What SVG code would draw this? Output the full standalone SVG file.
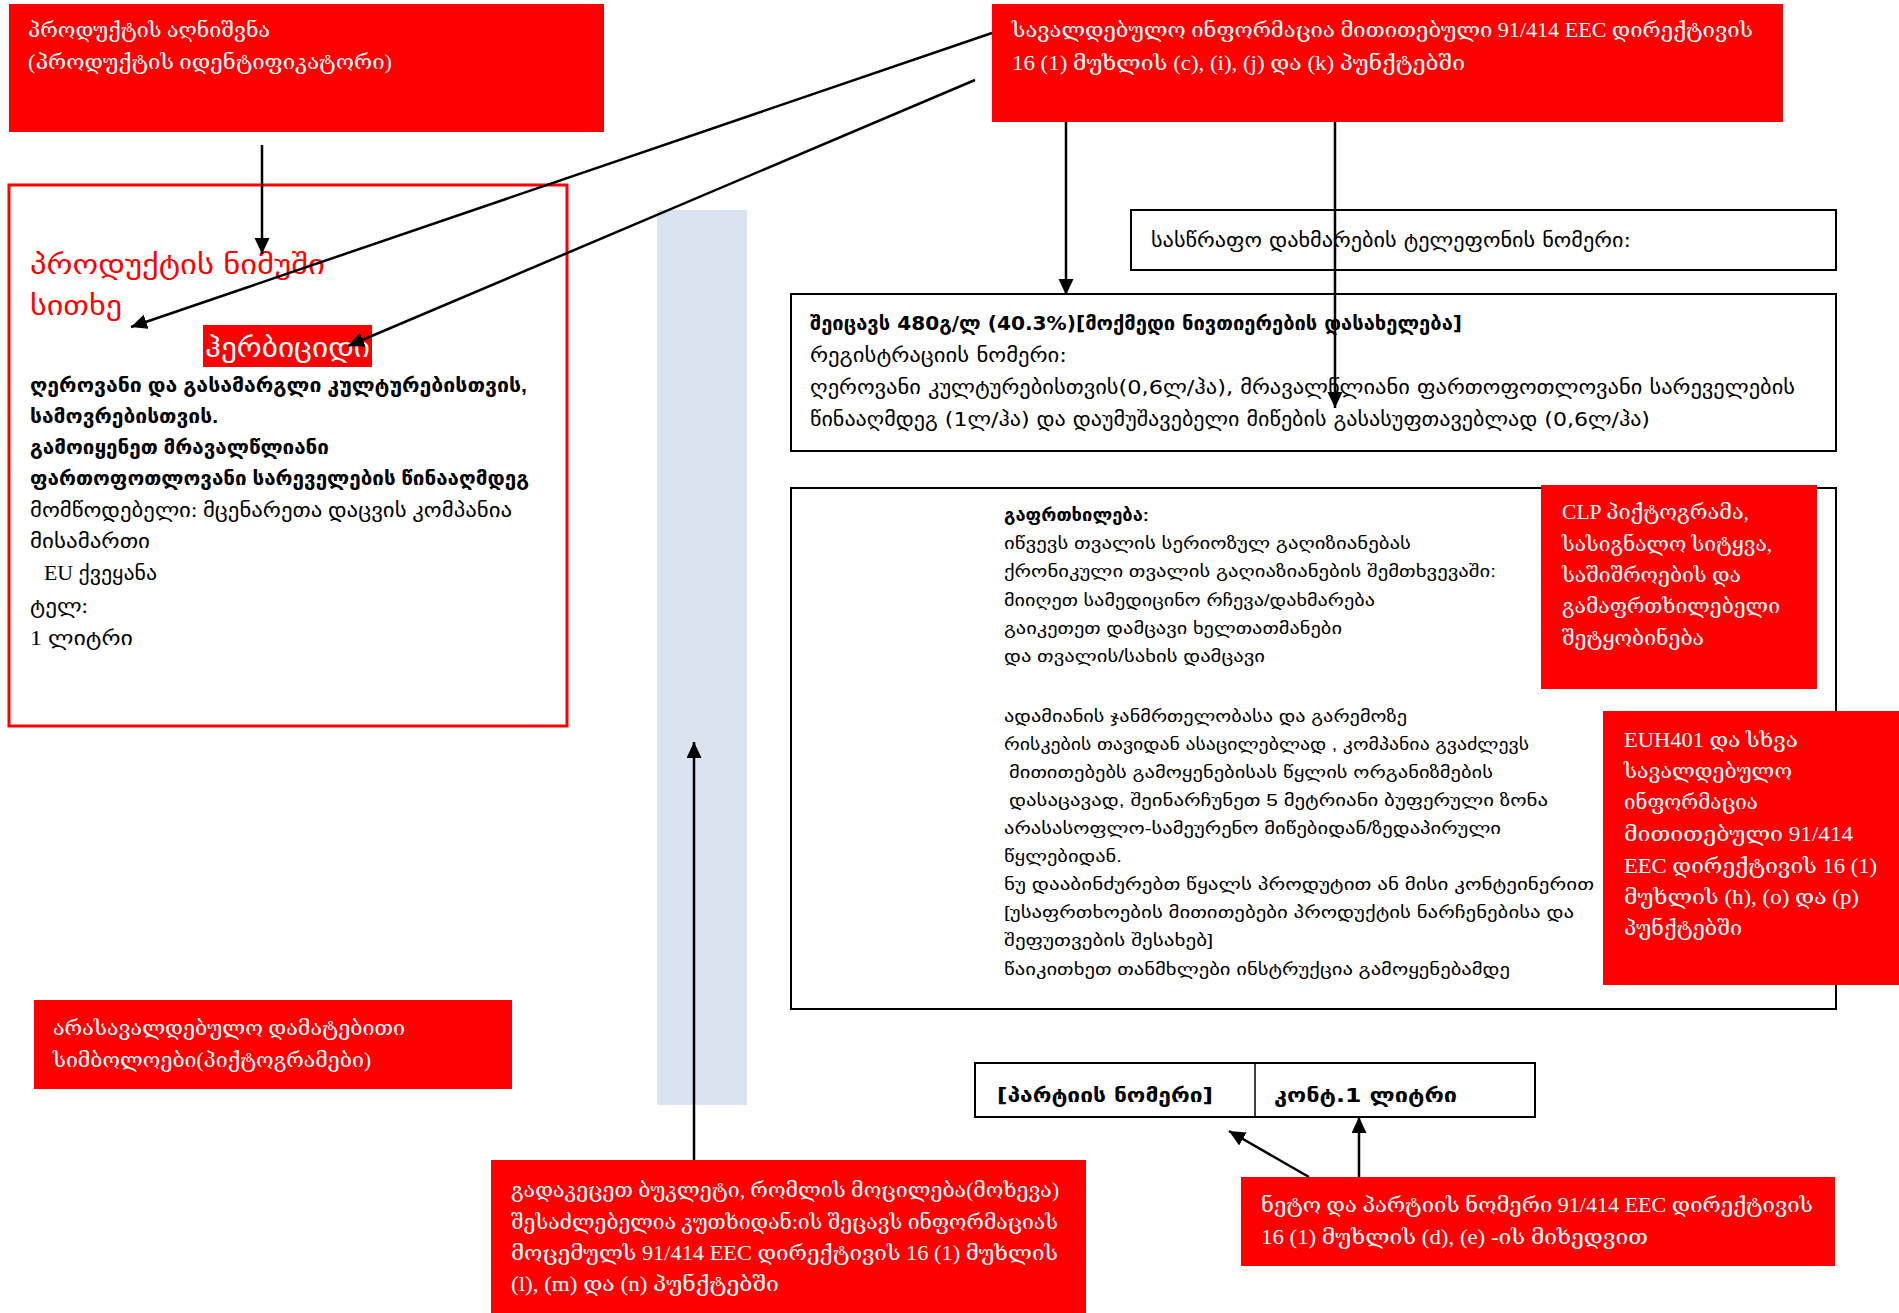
<svg xmlns="http://www.w3.org/2000/svg" width="1899" height="1313" viewBox="0 0 1899 1313">
<style>
.redbox{fill:#ff0000}
.wt{fill:#ffffff;font-family:"Liberation Serif","DejaVu Serif",serif;font-size:21px}
.lb{fill:#000;font-family:"Liberation Serif","DejaVu Sans",sans-serif;font-size:20px}
.lbb{fill:#000;font-family:"Liberation Sans","DejaVu Sans",sans-serif;font-size:20px;font-weight:bold}
.rt{fill:#ff0000;font-family:"Liberation Sans","DejaVu Sans",sans-serif;font-size:28px}
.box{fill:#ffffff;stroke:#000;stroke-width:2}
.nr{fill:#000;font-family:"Liberation Sans Narrow","DejaVu Sans Condensed","DejaVu Sans",sans-serif;font-stretch:condensed;font-size:20px}
.wn{fill:#000;font-family:"Liberation Sans","DejaVu Sans",sans-serif;font-size:17px}
.con{stroke:#000;stroke-width:2.5;fill:none}
</style>
<defs>
<marker id="ah" markerUnits="userSpaceOnUse" markerWidth="18" markerHeight="16" refX="16" refY="7.5" orient="auto">
<path d="M0,0 L16,7.5 L0,15 z" fill="#000"/>
</marker>
</defs>
<rect width="1899" height="1313" fill="#ffffff"/>

<g id="booklet-strip"><rect x="657" y="210" width="90" height="895" fill="#dae3f0"/></g>

<g id="product-id">
<rect class="redbox" x="9" y="4" width="595" height="128"/>
<text class="wt" x="28" y="37" textLength="242" lengthAdjust="spacingAndGlyphs">პროდუქტის აღნიშვნა</text>
<text class="wt" x="28" y="69" textLength="364" lengthAdjust="spacingAndGlyphs">(პროდუქტის იდენტიფიკატორი)</text>
</g>

<g id="mandatory-info">
<rect class="redbox" x="992" y="4" width="791" height="118"/>
<text class="wt" x="1012" y="37" textLength="741" lengthAdjust="spacingAndGlyphs">სავალდებულო ინფორმაცია მითითებული 91/414 EEC დირექტივის</text>
<text class="wt" x="1012" y="70" textLength="453" lengthAdjust="spacingAndGlyphs">16 (1) მუხლის (c), (i), (j) და (k) პუნქტებში</text>
</g>

<g id="label-sample">
<rect x="9" y="185" width="558" height="541" fill="none" stroke="#ff0000" stroke-width="3"/>
<text class="rt" x="30" y="274" textLength="295" lengthAdjust="spacingAndGlyphs">პროდუქტის ნიმუში</text>
<text class="rt" x="30" y="315" textLength="92" lengthAdjust="spacingAndGlyphs">სითხე</text>
<rect class="redbox" x="203" y="325" width="169" height="42"/>
<text class="rt" x="205" y="357" style="fill:#ffffff" textLength="165" lengthAdjust="spacingAndGlyphs">ჰერბიციდი</text>
<text class="lbb" x="30" y="392" textLength="497" lengthAdjust="spacingAndGlyphs">ღეროვანი და გასამარგლი კულტურებისთვის,</text>
<text class="lbb" x="30" y="423" textLength="188" lengthAdjust="spacingAndGlyphs">სამოვრებისთვის.</text>
<text class="lbb" x="30" y="454" textLength="299" lengthAdjust="spacingAndGlyphs">გამოიყენეთ მრავალწლიანი</text>
<text class="lbb" x="30" y="485" textLength="499" lengthAdjust="spacingAndGlyphs">ფართოფოთლოვანი სარეველების წინააღმდეგ</text>
<text class="lb" x="30" y="517" textLength="482" lengthAdjust="spacingAndGlyphs">მომწოდებელი: მცენარეთა დაცვის კომპანია</text>
<text class="lb" x="30" y="548" textLength="120" lengthAdjust="spacingAndGlyphs">მისამართი</text>
<text class="lb" x="44" y="580" textLength="113" lengthAdjust="spacingAndGlyphs">EU ქვეყანა</text>
<text class="lb" x="30" y="613" textLength="58" lengthAdjust="spacingAndGlyphs">ტელ:</text>
<text class="lb" x="30" y="645" textLength="103" lengthAdjust="spacingAndGlyphs">1 ლიტრი</text>
</g>

<g id="emergency-phone">
<rect class="box" x="1131" y="210" width="705" height="60"/>
<text class="nr" x="1151" y="247" textLength="480" lengthAdjust="spacingAndGlyphs">სასწრაფო დახმარების ტელეფონის ნომერი:</text>
</g>

<g id="composition">
<rect class="box" x="791" y="294" width="1045" height="157"/>
<text class="nr" x="810" y="330" font-weight="bold" textLength="652" lengthAdjust="spacingAndGlyphs">შეიცავს 480გ/ლ (40.3%)[მოქმედი ნივთიერების დასახელება]</text>
<text class="nr" x="810" y="362" textLength="257" lengthAdjust="spacingAndGlyphs">რეგისტრაციის ნომერი:</text>
<text class="nr" x="810" y="394" textLength="985" lengthAdjust="spacingAndGlyphs">ღეროვანი კულტურებისთვის(0,6ლ/ჰა), მრავალწლიანი ფართოფოთლოვანი სარეველების</text>
<text class="nr" x="810" y="426" textLength="840" lengthAdjust="spacingAndGlyphs">წინააღმდეგ (1ლ/ჰა) და დაუმუშავებელი მიწების გასასუფთავებლად (0,6ლ/ჰა)</text>
</g>

<g id="warning">
<rect class="box" x="791" y="488" width="1045" height="521"/>
<text class="wn" x="1004" y="521" font-weight="bold" textLength="145" lengthAdjust="spacingAndGlyphs">გაფრთხილება:</text>
<text class="wn" x="1004" y="549" textLength="407" lengthAdjust="spacingAndGlyphs">იწვევს თვალის სერიოზულ გაღიზიანებას</text>
<text class="wn" x="1004" y="577" textLength="492" lengthAdjust="spacingAndGlyphs">ქრონიკული თვალის გაღიაზიანების შემთხვევაში:</text>
<text class="wn" x="1004" y="606" textLength="371" lengthAdjust="spacingAndGlyphs">მიიღეთ სამედიცინო რჩევა/დახმარება</text>
<text class="wn" x="1004" y="634" textLength="338" lengthAdjust="spacingAndGlyphs">გაიკეთეთ დამცავი ხელთათმანები</text>
<text class="wn" x="1004" y="662" textLength="261" lengthAdjust="spacingAndGlyphs">და თვალის/სახის დამცავი</text>
<text class="wn" x="1004" y="722" textLength="403" lengthAdjust="spacingAndGlyphs">ადამიანის ჯანმრთელობასა და გარემოზე</text>
<text class="wn" x="1004" y="750" textLength="525" lengthAdjust="spacingAndGlyphs">რისკების თავიდან ასაცილებლად , კომპანია გვაძლევს</text>
<text class="wn" x="1009" y="778" textLength="484" lengthAdjust="spacingAndGlyphs">მითითებებს გამოყენებისას წყლის ორგანიზმების</text>
<text class="wn" x="1009" y="806" textLength="539" lengthAdjust="spacingAndGlyphs">დასაცავად, შეინარჩუნეთ 5 მეტრიანი ბუფერული ზონა</text>
<text class="wn" x="1004" y="834" textLength="497" lengthAdjust="spacingAndGlyphs">არასასოფლო-სამეურენო მიწებიდან/ზედაპირული</text>
<text class="wn" x="1004" y="862" textLength="118" lengthAdjust="spacingAndGlyphs">წყლებიდან.</text>
<text class="wn" x="1004" y="890" textLength="590" lengthAdjust="spacingAndGlyphs">ნუ დააბინძურებთ წყალს პროდუტით ან მისი კონტეინერით</text>
<text class="wn" x="1004" y="918" textLength="570" lengthAdjust="spacingAndGlyphs">[უსაფრთხოების მითითებები პროდუქტის ნარჩენებისა და</text>
<text class="wn" x="1004" y="946" textLength="209" lengthAdjust="spacingAndGlyphs">შეფუთვების შესახებ]</text>
<text class="wn" x="1004" y="975" textLength="506" lengthAdjust="spacingAndGlyphs">წაიკითხეთ თანმხლები ინსტრუქცია გამოყენებამდე</text>
</g>

<g id="clp">
<rect class="redbox" x="1541" y="485" width="276" height="204"/>
<text class="wt" x="1562" y="519" textLength="187" lengthAdjust="spacingAndGlyphs">CLP პიქტოგრამა,</text>
<text class="wt" x="1562" y="551" textLength="210" lengthAdjust="spacingAndGlyphs">სასიგნალო სიტყვა,</text>
<text class="wt" x="1562" y="582" textLength="179" lengthAdjust="spacingAndGlyphs">საშიშროების და</text>
<text class="wt" x="1562" y="613" textLength="218" lengthAdjust="spacingAndGlyphs">გამაფრთხილებელი</text>
<text class="wt" x="1562" y="645" textLength="142" lengthAdjust="spacingAndGlyphs">შეტყობინება</text>
</g>

<g id="euh401">
<rect class="redbox" x="1603" y="711" width="296" height="274"/>
<text class="wt" x="1624" y="747" textLength="174" lengthAdjust="spacingAndGlyphs">EUH401 და სხვა</text>
<text class="wt" x="1624" y="778" textLength="168" lengthAdjust="spacingAndGlyphs">სავალდებულო</text>
<text class="wt" x="1624" y="809" textLength="134" lengthAdjust="spacingAndGlyphs">ინფორმაცია</text>
<text class="wt" x="1624" y="841" textLength="229" lengthAdjust="spacingAndGlyphs">მითითებული 91/414</text>
<text class="wt" x="1624" y="873" textLength="253" lengthAdjust="spacingAndGlyphs">EEC დირექტივის 16 (1)</text>
<text class="wt" x="1624" y="904" textLength="235" lengthAdjust="spacingAndGlyphs">მუხლის (h), (o) და (p)</text>
<text class="wt" x="1624" y="935" textLength="118" lengthAdjust="spacingAndGlyphs">პუნქტებში</text>
</g>

<g id="optional-symbols">
<rect class="redbox" x="34" y="1000" width="478" height="89"/>
<text class="wt" x="53" y="1035" textLength="352" lengthAdjust="spacingAndGlyphs">არასავალდებულო დამატებითი</text>
<text class="wt" x="53" y="1067" textLength="318" lengthAdjust="spacingAndGlyphs">სიმბოლოები(პიქტოგრამები)</text>
</g>

<g id="booklet">
<rect class="redbox" x="491" y="1160" width="595" height="153"/>
<text class="wt" x="511" y="1197" textLength="548" lengthAdjust="spacingAndGlyphs">გადაკეცეთ ბუკლეტი, რომლის მოცილება(მოხევა)</text>
<text class="wt" x="511" y="1229" textLength="547" lengthAdjust="spacingAndGlyphs">შესაძლებელია კუთხიდან:ის შეცავს ინფორმაციას</text>
<text class="wt" x="511" y="1260" textLength="547" lengthAdjust="spacingAndGlyphs">მოცემულს 91/414 EEC დირექტივის 16 (1) მუხლის</text>
<text class="wt" x="511" y="1291" textLength="268" lengthAdjust="spacingAndGlyphs">(l), (m) და (n) პუნქტებში</text>
</g>

<g id="batch">
<rect class="box" x="975" y="1063" width="560" height="54"/>
<line x1="1255" y1="1063" x2="1255" y2="1117" stroke="#000" stroke-width="1.5"/>
<text class="nr" x="997" y="1102" font-size="22" font-weight="bold" textLength="216" lengthAdjust="spacingAndGlyphs">[პარტიის ნომერი]</text>
<text class="nr" x="1274" y="1102" font-size="22" font-weight="bold" textLength="183" lengthAdjust="spacingAndGlyphs">კონტ.1 ლიტრი</text>
</g>

<g id="net-batch">
<rect class="redbox" x="1241" y="1177" width="594" height="89"/>
<text class="wt" x="1261" y="1212" textLength="552" lengthAdjust="spacingAndGlyphs">ნეტო და პარტიის ნომერი 91/414 EEC დირექტივის</text>
<text class="wt" x="1261" y="1244" textLength="387" lengthAdjust="spacingAndGlyphs">16 (1) მუხლის (d), (e) -ის მიხედვით</text>
</g>

<g id="connectors">
<line class="con" x1="262" y1="145" x2="262" y2="254" marker-end="url(#ah)"/>
<line class="con" x1="992" y1="33" x2="131" y2="327" marker-end="url(#ah)"/>
<line class="con" x1="975" y1="80" x2="348" y2="346" marker-end="url(#ah)"/>
<line class="con" x1="1066" y1="122" x2="1066" y2="295" marker-end="url(#ah)"/>
<line class="con" x1="1335" y1="122" x2="1335" y2="408" marker-end="url(#ah)"/>
<line class="con" x1="694" y1="1160" x2="694" y2="742" marker-end="url(#ah)"/>
<line class="con" x1="1309" y1="1177" x2="1229" y2="1131" marker-end="url(#ah)"/>
<line class="con" x1="1359" y1="1177" x2="1359" y2="1117" marker-end="url(#ah)"/>
</g>
</svg>
